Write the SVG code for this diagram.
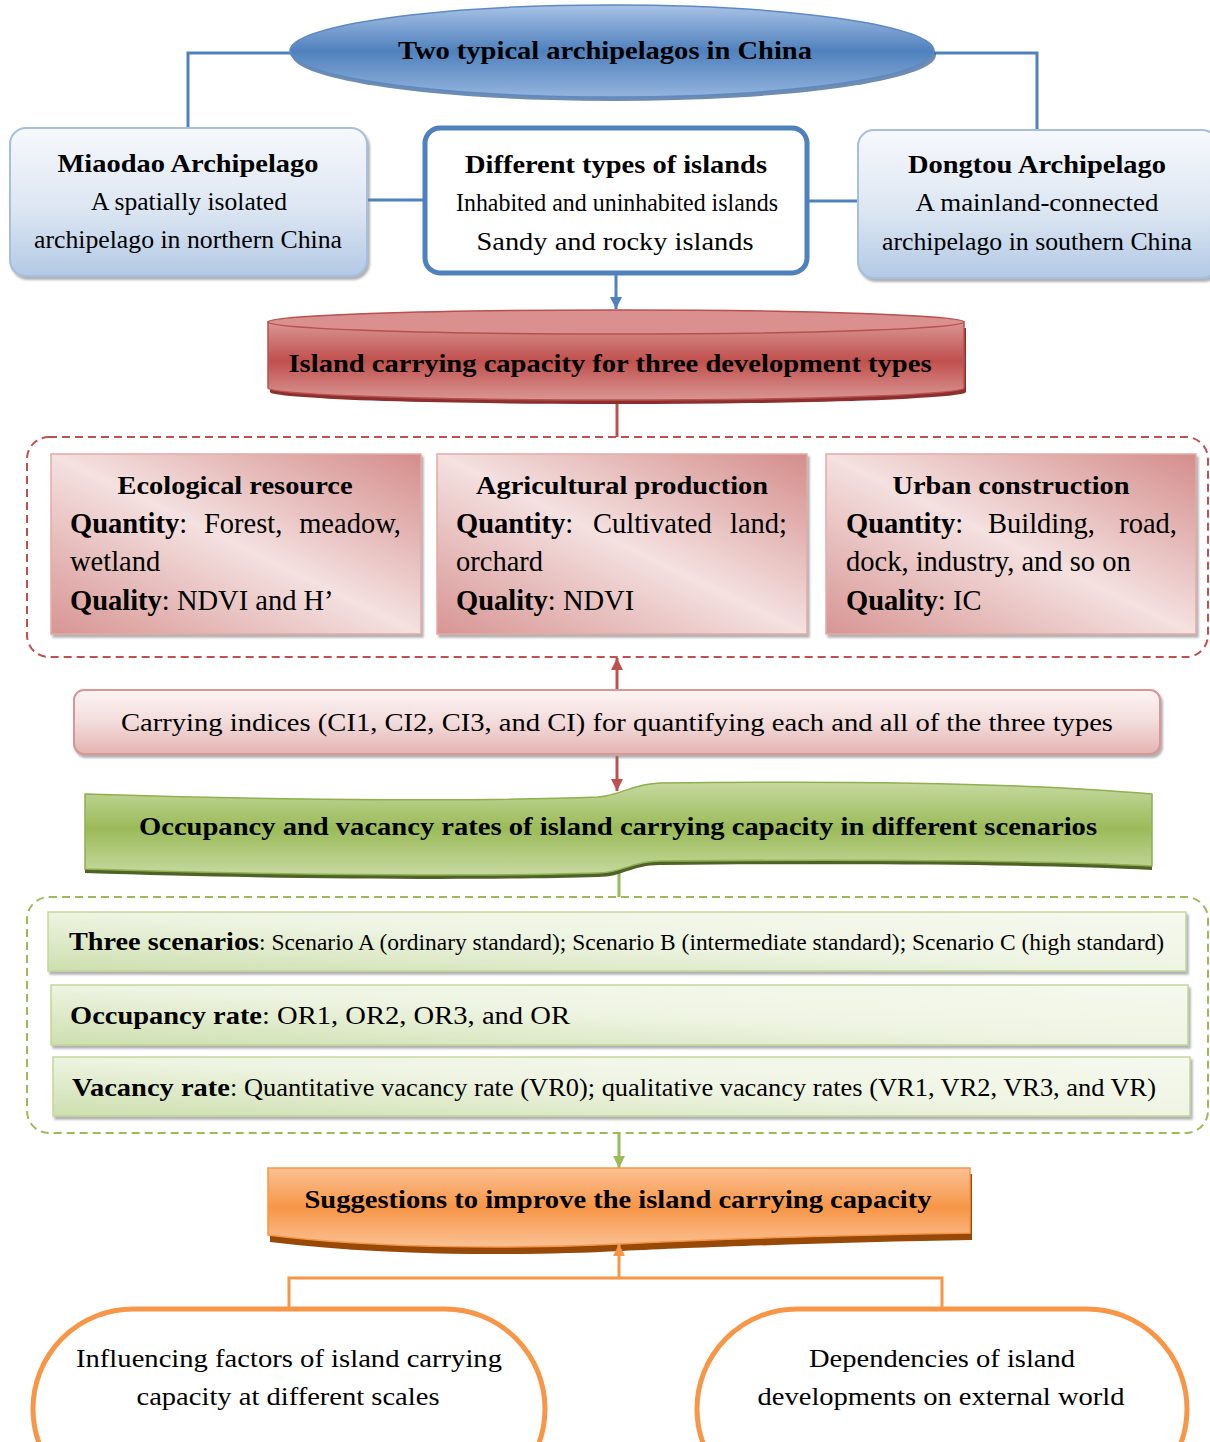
<svg xmlns="http://www.w3.org/2000/svg" width="1210" height="1442" viewBox="0 0 1210 1442">
<style>
text{font-family:"Liberation Serif","Times New Roman",serif;font-size:26px;fill:#000}
.b{font-weight:bold}
.m{text-anchor:middle}
.e{text-anchor:end}
.p{font-size:28.5px}
.cb{stroke:#4f81bd;stroke-width:3;fill:none}
.cr{stroke:#c0504d;stroke-width:3;fill:none}
.cg{stroke:#9bbb59;stroke-width:3;fill:none}
.co{stroke:#f79646;stroke-width:3;fill:none}
</style>
<defs>
<linearGradient id="gEll" x1="0" y1="0" x2="0" y2="1">
<stop offset="0" stop-color="#a9c2e6"/><stop offset="0.5" stop-color="#4f81bd"/><stop offset="1" stop-color="#94b4de"/>
</linearGradient>
<linearGradient id="gBlueBox" x1="0" y1="0" x2="0" y2="1">
<stop offset="0" stop-color="#f7f9fc"/><stop offset="0.55" stop-color="#dce6f2"/><stop offset="1" stop-color="#b3c9e5"/>
</linearGradient>
<linearGradient id="gCyl" x1="0" y1="0" x2="0" y2="1">
<stop offset="0" stop-color="#d99694"/><stop offset="0.5" stop-color="#c0504d"/><stop offset="1" stop-color="#d99694"/>
</linearGradient>
<linearGradient id="gPink" x1="1" y1="0" x2="0" y2="1">
<stop offset="0" stop-color="#d48d8b"/><stop offset="0.5" stop-color="#f4e1e0"/><stop offset="1" stop-color="#d79593"/>
</linearGradient>
<linearGradient id="gCI" x1="0" y1="0" x2="0" y2="1">
<stop offset="0" stop-color="#fdf4f4"/><stop offset="0.5" stop-color="#f2dcdb"/><stop offset="1" stop-color="#e4b4b3"/>
</linearGradient>
<linearGradient id="gGreenB" x1="0" y1="0" x2="0" y2="1">
<stop offset="0" stop-color="#c6d9a0"/><stop offset="0.5" stop-color="#9bbb59"/><stop offset="1" stop-color="#c6d9a0"/>
</linearGradient>
<linearGradient id="gGreenRow" x1="0" y1="1" x2="1" y2="0">
<stop offset="0" stop-color="#cddfae"/><stop offset="0.5" stop-color="#eef4e2"/><stop offset="1" stop-color="#f6f9ef"/>
</linearGradient>
<linearGradient id="gOrange" x1="0" y1="0" x2="0" y2="1">
<stop offset="0" stop-color="#fbc195"/><stop offset="0.5" stop-color="#f79646"/><stop offset="1" stop-color="#fbc195"/>
</linearGradient>
<filter id="sh" x="-5%" y="-10%" width="110%" height="125%">
<feDropShadow dx="2" dy="3" stdDeviation="1" flood-color="#7f7f7f" flood-opacity="0.6"/>
</filter>
<marker id="aB" markerUnits="userSpaceOnUse" markerWidth="14" markerHeight="14" refX="12" refY="7" orient="auto"><path d="M0,1 L12,7 L0,13 Z" fill="#4f81bd"/></marker>
<marker id="aR" markerUnits="userSpaceOnUse" markerWidth="14" markerHeight="14" refX="12" refY="7" orient="auto"><path d="M0,1 L12,7 L0,13 Z" fill="#c0504d"/></marker>
<marker id="aG" markerUnits="userSpaceOnUse" markerWidth="14" markerHeight="14" refX="12" refY="7" orient="auto"><path d="M0,1 L12,7 L0,13 Z" fill="#9bbb59"/></marker>
<marker id="aO" markerUnits="userSpaceOnUse" markerWidth="14" markerHeight="14" refX="12" refY="7" orient="auto"><path d="M0,1 L12,7 L0,13 Z" fill="#f79646"/></marker>
</defs>

<g id="connectors">
<path class="cb" d="M292,53 H188 V128"/>
<path class="cb" d="M933,53 H1037 V130"/>
<path class="cb" d="M367,200 H424"/>
<path class="cb" d="M808,201 H858"/>
<path class="cb" d="M616,275 V309" marker-end="url(#aB)"/>
<path class="cr" d="M617,400 V437"/>
<path class="cr" d="M617,690 V658" marker-end="url(#aR)"/>
<path class="cr" d="M617,756 V791" marker-end="url(#aR)"/>
<path class="cg" d="M619,868 V897"/>
<path class="cg" d="M619,1134 V1168" marker-end="url(#aG)"/>
<path class="co" d="M289,1308 V1278 H942 V1308"/>
</g>

<g id="n-top">
<ellipse cx="614" cy="55" rx="322" ry="46" fill="#2f5b8f" opacity="0.7"/>
<ellipse cx="612" cy="51" rx="322" ry="46" fill="url(#gEll)" stroke="#5d8ac4" stroke-width="1.5"/>
<text class="b m" x="605" y="59" textLength="414" lengthAdjust="spacingAndGlyphs">Two typical archipelagos in China</text>
</g>

<g id="n-miaodao">
<rect x="10" y="128" width="357" height="148" rx="16" fill="url(#gBlueBox)" stroke="#a6bfde" stroke-width="2" filter="url(#sh)"/>
<text class="b m" x="188" y="172" textLength="261" lengthAdjust="spacingAndGlyphs">Miaodao Archipelago</text>
<text class="m" x="189" y="210" textLength="196" lengthAdjust="spacingAndGlyphs">A spatially isolated</text>
<text class="m" x="188" y="248" textLength="308" lengthAdjust="spacingAndGlyphs">archipelago in northern China</text>
</g>

<g id="n-types">
<rect x="425" y="128" width="382" height="145" rx="15" fill="#fff" stroke="#4f81bd" stroke-width="5"/>
<text class="b m" x="616" y="173" textLength="302" lengthAdjust="spacingAndGlyphs">Different types of islands</text>
<text class="m" x="617" y="211" textLength="322" lengthAdjust="spacingAndGlyphs">Inhabited and uninhabited islands</text>
<text class="m" x="615" y="250" textLength="277" lengthAdjust="spacingAndGlyphs">Sandy and rocky islands</text>
</g>

<g id="n-dongtou">
<rect x="858" y="130" width="360" height="148" rx="16" fill="url(#gBlueBox)" stroke="#a6bfde" stroke-width="2" filter="url(#sh)"/>
<text class="b m" x="1037" y="173" textLength="258" lengthAdjust="spacingAndGlyphs">Dongtou Archipelago</text>
<text class="m" x="1037" y="211" textLength="243" lengthAdjust="spacingAndGlyphs">A mainland-connected</text>
<text class="m" x="1037" y="250" textLength="310" lengthAdjust="spacingAndGlyphs">archipelago in southern China</text>
</g>

<g id="n-capacity">
<path d="M268,324 V388 A348,12 0 0 0 964,388 V324 Z" fill="#8c2f2d" transform="translate(2,4)"/>
<path d="M268,322 V388 A348,12 0 0 0 964,388 V322 Z" fill="url(#gCyl)" stroke="#b9504d" stroke-width="1.5"/>
<ellipse cx="616" cy="322" rx="348" ry="12" fill="#d9908e" stroke="#b9504d" stroke-width="1.5"/>
<text class="b m" x="610" y="372" textLength="643" lengthAdjust="spacingAndGlyphs">Island carrying capacity for three development types</text>
</g>

<g id="g-types-frame">
<rect x="27" y="437" width="1181" height="220" rx="22" fill="none" stroke="#c0504d" stroke-width="2" stroke-dasharray="8 5"/>
</g>

<g id="n-eco">
<rect x="51" y="454" width="370" height="180" fill="url(#gPink)" stroke="#e3aaa8" stroke-width="1.5" filter="url(#sh)"/>
<text class="b m" x="235" y="494" textLength="235" lengthAdjust="spacingAndGlyphs">Ecological resource</text>
<text class="p" x="70" y="533"><tspan class="b">Quantity</tspan>:</text>
<text class="p" x="204" y="533">Forest,</text>
<text class="p e" x="401" y="533">meadow,</text>
<text class="p" x="70" y="571">wetland</text>
<text class="p" x="70" y="610"><tspan class="b">Quality</tspan>: NDVI and H’</text>
</g>

<g id="n-agri">
<rect x="437" y="454" width="370" height="180" fill="url(#gPink)" stroke="#e3aaa8" stroke-width="1.5" filter="url(#sh)"/>
<text class="b m" x="622" y="494" textLength="292" lengthAdjust="spacingAndGlyphs">Agricultural production</text>
<text class="p" x="456" y="533"><tspan class="b">Quantity</tspan>:</text>
<text class="p" x="593" y="533">Cultivated</text>
<text class="p e" x="787" y="533">land;</text>
<text class="p" x="456" y="571">orchard</text>
<text class="p" x="456" y="610"><tspan class="b">Quality</tspan>: NDVI</text>
</g>

<g id="n-urban">
<rect x="826" y="454" width="370" height="180" fill="url(#gPink)" stroke="#e3aaa8" stroke-width="1.5" filter="url(#sh)"/>
<text class="b m" x="1011" y="494" textLength="237" lengthAdjust="spacingAndGlyphs">Urban construction</text>
<text class="p" x="846" y="533"><tspan class="b">Quantity</tspan>:</text>
<text class="p" x="988" y="533">Building,</text>
<text class="p e" x="1177" y="533">road,</text>
<text class="p" x="846" y="571">dock, industry, and so on</text>
<text class="p" x="846" y="610"><tspan class="b">Quality</tspan>: IC</text>
</g>

<g id="n-ci">
<rect x="74" y="690" width="1086" height="64" rx="10" fill="url(#gCI)" stroke="#d99694" stroke-width="2" filter="url(#sh)"/>
<text class="m" x="617" y="731" textLength="992" lengthAdjust="spacingAndGlyphs">Carrying indices (CI1, CI2, CI3, and CI) for quantifying each and all of the three types</text>
</g>

<g id="n-occupancy">
<path d="M85,794 C300,801 500,801 598,797 C622,795 632,784 660,783 C900,780 1050,785 1152,794 L1152,866 C1050,861 900,859 660,861 C632,861 622,873 598,873 C500,876 300,876 85,869 Z" fill="#4f6228" transform="translate(0,4)"/>
<path d="M85,794 C300,801 500,801 598,797 C622,795 632,784 660,783 C900,780 1050,785 1152,794 L1152,866 C1050,861 900,859 660,861 C632,861 622,873 598,873 C500,876 300,876 85,869 Z" fill="url(#gGreenB)" stroke="#8fb04f" stroke-width="1.5"/>
<text class="b m" x="618" y="835" textLength="958" lengthAdjust="spacingAndGlyphs">Occupancy and vacancy rates of island carrying capacity in different scenarios</text>
</g>

<g id="g-rates-frame">
<rect x="27" y="897" width="1181" height="236" rx="22" fill="none" stroke="#9bbb59" stroke-width="2" stroke-dasharray="8 5"/>
</g>

<g id="n-scenarios">
<rect x="48" y="912" width="1138" height="59" fill="url(#gGreenRow)" stroke="#c3d69b" stroke-width="1.5" filter="url(#sh)"/>
<text class="b" x="69" y="950" textLength="190" lengthAdjust="spacingAndGlyphs">Three scenarios</text>
<text x="259" y="950" style="font-size:23px" textLength="905" lengthAdjust="spacingAndGlyphs">: Scenario A (ordinary standard); Scenario B (intermediate standard); Scenario C (high standard)</text>
</g>

<g id="n-or">
<rect x="51" y="985" width="1137" height="60" fill="url(#gGreenRow)" stroke="#c3d69b" stroke-width="1.5" filter="url(#sh)"/>
<text class="b" x="70" y="1024" textLength="192" lengthAdjust="spacingAndGlyphs">Occupancy rate</text>
<text x="262" y="1024" textLength="308" lengthAdjust="spacingAndGlyphs">: OR1, OR2, OR3, and OR</text>
</g>

<g id="n-vr">
<rect x="53" y="1057" width="1137" height="59" fill="url(#gGreenRow)" stroke="#c3d69b" stroke-width="1.5" filter="url(#sh)"/>
<text class="b" x="72" y="1096" textLength="158" lengthAdjust="spacingAndGlyphs">Vacancy rate</text>
<text x="230" y="1096" textLength="926" lengthAdjust="spacingAndGlyphs">: Quantitative vacancy rate (VR0); qualitative vacancy rates (VR1, VR2, VR3, and VR)</text>
</g>

<g id="n-suggestions">
<path d="M268,1170 H970 V1236 C850,1238 700,1243 620,1247 C520,1252 380,1252 268,1238 Z" fill="#984807" transform="translate(2,4)"/>
<path d="M268,1168 H970 V1233 C850,1235 700,1240 620,1244 C520,1249 380,1249 268,1235 Z" fill="url(#gOrange)" stroke="#f79646" stroke-width="1.5"/>
<text class="b m" x="618" y="1208" textLength="627" lengthAdjust="spacingAndGlyphs">Suggestions to improve the island carrying capacity</text>
</g>

<g id="connectors-top">
<path class="co" d="M619,1278 V1244" marker-end="url(#aO)"/>
</g>

<g id="n-factors">
<rect x="33" y="1309" width="512" height="200" rx="100" fill="#fff" stroke="#f79646" stroke-width="5"/>
<text class="m" x="289" y="1367" textLength="426" lengthAdjust="spacingAndGlyphs">Influencing factors of island carrying</text>
<text class="m" x="288" y="1405" textLength="303" lengthAdjust="spacingAndGlyphs">capacity at different scales</text>
</g>

<g id="n-dependencies">
<rect x="697" y="1309" width="490" height="200" rx="100" fill="#fff" stroke="#f79646" stroke-width="5"/>
<text class="m" x="942" y="1367" textLength="266" lengthAdjust="spacingAndGlyphs">Dependencies of island</text>
<text class="m" x="941" y="1405" textLength="367" lengthAdjust="spacingAndGlyphs">developments on external world</text>
</g>
</svg>
